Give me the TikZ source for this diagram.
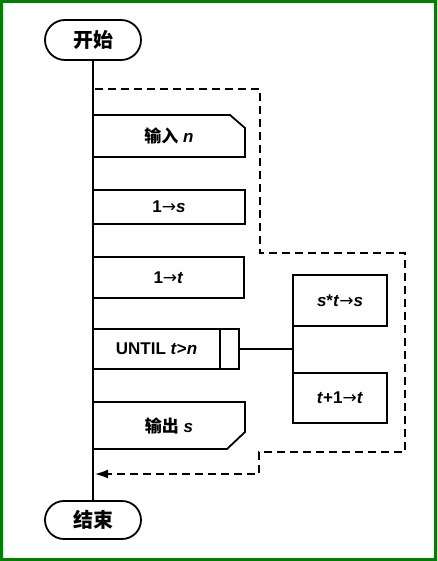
\documentclass[tikz,border=0pt]{standalone}
\usepackage{fontspec}
\setmainfont{Liberation Sans}
\newfontfamily\cjk{Noto Sans CJK SC}
\newfontfamily\symf{DejaVu Sans}
\usetikzlibrary{shapes.misc,arrows.meta}
\newcommand{\myarr}{{\symf\mdseries →}}
\definecolor{frame}{RGB}{0,128,0}
\begin{document}
\begin{tikzpicture}[x=1pt,y=-1pt,line width=1.8pt,
  term/.style={rounded rectangle, draw, minimum width=96pt, minimum height=40pt, inner sep=0pt,
    font=\cjk\bfseries\fontsize{20}{24}\selectfont},
  plain/.style={rectangle, anchor=north west, inner sep=0pt, outer sep=0pt,
    font=\bfseries\fontsize{17}{20}\selectfont},
  boxed/.style={plain, draw},
  loop/.style={dashed, dash pattern=on 8pt off 5pt, line width=1.4pt}]
\useasboundingbox (0,0) rectangle (437,561);
\draw[frame, line width=3pt] (1.5,1.5) rectangle (435.5,559.5);

\node[term] (start) at (93,40) {开始};
\node[term, minimum height=38pt] (end) at (93,520) {结束};
\draw (start.south) -- (end.north);

\node[plain, minimum width=152pt, minimum height=42pt] (in) at (93,115) {{\cjk 输入} \textit{n}};
\draw (in.north west) -- ([xshift=-15pt]in.north east) -- ([yshift=-13pt]in.north east)
  -- (in.south east) -- (in.south west) -- cycle;

\node[boxed, minimum width=152pt, minimum height=34pt] (s1) at (93,190) {1\myarr\textit{s}};
\node[boxed, minimum width=151pt, minimum height=41pt] (t1) at (93,257) {1\myarr\textit{t}};
\node[boxed, minimum width=127pt, minimum height=40pt] (until) at (93,329) {UNTIL \textit{t}>\textit{n}};
\node[boxed, minimum width=19pt, minimum height=40pt] (untilend) at (220,329) {};

\node[plain, minimum width=152pt, minimum height=47pt] (out) at (93,402) {{\cjk 输出} \textit{s}};
\draw (out.north west) -- (out.north east) -- ([yshift=17pt]out.south east)
  -- ([xshift=-18pt]out.south east) -- (out.south west) -- cycle;

\node[boxed, minimum width=94pt, minimum height=51pt] (st) at (293,275) {\textit{s}*\textit{t}\myarr\textit{s}};
\node[boxed, minimum width=94pt, minimum height=50pt] (tp) at (293,373) {\textit{t}+1\myarr\textit{t}};
\draw (st.south west) -- (tp.north west);
\draw (untilend.east) -- (untilend.east -| st.west);

\coordinate (ls) at (95,89);
\coordinate (le) at (95,474);
\draw[loop, -{Latex[length=13pt,width=9pt]}] (ls) -- (260,89) -- (260,253) -- (405,253)
  -- (405,452) -- (259,452) -- (259,474) -- (le);
\end{tikzpicture}
\end{document}
